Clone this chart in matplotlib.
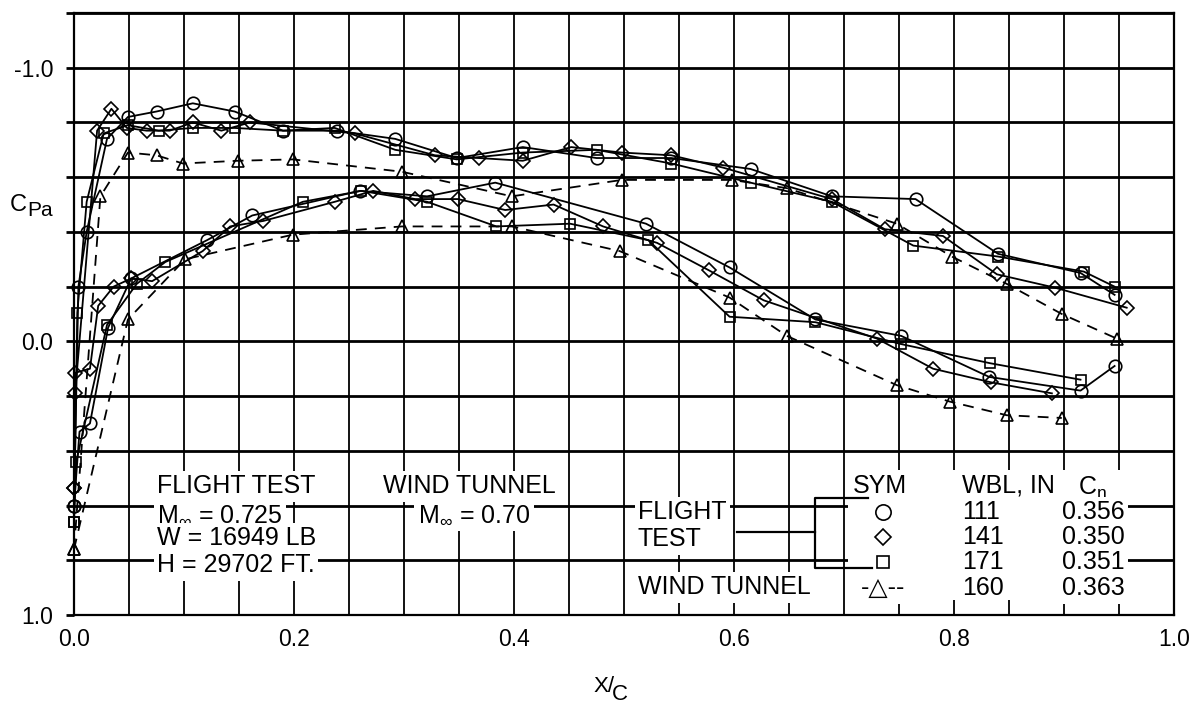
import numpy as np
import matplotlib.pyplot as plt
from matplotlib.patches import Rectangle

plt.rcParams['font.family'] = ['Liberation Sans', 'DejaVu Sans']
plt.rcParams['mathtext.fontset'] = 'custom'
plt.rcParams['mathtext.rm'] = 'Liberation Sans'
plt.rcParams['mathtext.it'] = 'Liberation Sans'

# flight test, WBL 111 (circle)
circ_up_x = [0.0, 0.004, 0.0115, 0.030, 0.049, 0.075, 0.108, 0.146, 0.190, 0.239, 0.292,
             0.348, 0.408, 0.475, 0.543, 0.615, 0.689, 0.765, 0.840, 0.915, 0.946]
circ_up_cp = [0.60, -0.20, -0.40, -0.74, -0.82, -0.84, -0.87, -0.84, -0.77, -0.77, -0.74,
              -0.67, -0.71, -0.67, -0.67, -0.63, -0.53, -0.52, -0.32, -0.25, -0.17]
circ_lo_x = [0.0, 0.005, 0.0145, 0.031, 0.052, 0.121, 0.162, 0.260, 0.321, 0.383, 0.520,
             0.596, 0.674, 0.752, 0.832, 0.915, 0.946]
circ_lo_cp = [0.60, 0.33, 0.30, -0.05, -0.23, -0.37, -0.46, -0.55, -0.53, -0.58, -0.43,
              -0.27, -0.08, -0.02, 0.13, 0.18, 0.09]

# flight test, WBL 141 (diamond)
diam_up_x = [0.0, 0.001, 0.021, 0.034, 0.048, 0.066, 0.087, 0.108, 0.134, 0.160, 0.255, 0.328,
             0.368, 0.408, 0.452, 0.498, 0.543, 0.590, 0.689, 0.737, 0.790, 0.839, 0.892, 0.957]
diam_up_cp = [0.535, 0.19, -0.77, -0.85, -0.78, -0.77, -0.77, -0.80, -0.77, -0.80, -0.76, -0.68,
              -0.67, -0.66, -0.71, -0.69, -0.68, -0.635, -0.52, -0.41, -0.385, -0.245, -0.196, -0.123]
diam_lo_x = [0.0, 0.001, 0.0145, 0.022, 0.036, 0.052, 0.071, 0.117, 0.142, 0.172, 0.237, 0.272,
             0.310, 0.349, 0.392, 0.436, 0.481, 0.530, 0.577, 0.627, 0.730, 0.781, 0.834, 0.889]
diam_lo_cp = [0.535, 0.115, 0.10, -0.13, -0.20, -0.23, -0.22, -0.33, -0.42, -0.44, -0.51, -0.55,
              -0.52, -0.52, -0.48, -0.50, -0.42, -0.36, -0.26, -0.15, -0.01, 0.10, 0.15, 0.19]

# flight test, WBL 171 (square)
sq_up_x = [0.0, 0.003, 0.0115, 0.027, 0.049, 0.077, 0.108, 0.146, 0.190, 0.237, 0.292,
           0.348, 0.408, 0.475, 0.543, 0.615, 0.689, 0.763, 0.840, 0.918, 0.946]
sq_up_cp = [0.66, -0.105, -0.51, -0.76, -0.79, -0.77, -0.78, -0.78, -0.77, -0.78, -0.70,
            -0.665, -0.69, -0.70, -0.65, -0.58, -0.51, -0.35, -0.31, -0.255, -0.20]
sq_lo_x = [0.0, 0.002, 0.030, 0.057, 0.083, 0.208, 0.261, 0.321, 0.384, 0.451, 0.522,
           0.596, 0.674, 0.752, 0.833, 0.915]
sq_lo_cp = [0.66, 0.44, -0.06, -0.21, -0.29, -0.51, -0.55, -0.51, -0.42, -0.43, -0.37,
            -0.09, -0.07, 0.01, 0.08, 0.14]

# wind tunnel, WBL 160 (triangle, dashed)
tri_up_x = [0.0, 0.024, 0.049, 0.075, 0.099, 0.149, 0.199, 0.298, 0.398, 0.498, 0.598,
            0.648, 0.748, 0.798, 0.848, 0.898, 0.948]
tri_up_cp = [0.76, -0.53, -0.69, -0.68, -0.65, -0.66, -0.665, -0.62, -0.53, -0.59, -0.59,
             -0.56, -0.43, -0.31, -0.21, -0.10, -0.01]
tri_lo_x = [0.0, 0.049, 0.101, 0.199, 0.298, 0.398, 0.496, 0.596, 0.648, 0.748, 0.796, 0.848, 0.898]
tri_lo_cp = [0.76, -0.08, -0.30, -0.39, -0.42, -0.42, -0.33, -0.16, -0.02, 0.16, 0.22, 0.27, 0.28]

wbl = ['111', '141', '171', '160']
cn = ['0.356', '0.350', '0.351', '0.363']

fig = plt.figure(figsize=(11.93, 7.19), dpi=100)
ax = fig.add_axes([74 / 1193, 1 - 615 / 719, 1100 / 1193, 602 / 719])


def axc(px, py):
    # pixel position -> axes fraction
    return (px - 74) / 1100, (615 - py) / 602


solid = dict(color='k', lw=1.3, mfc='none', mec='k', mew=1.2, zorder=4, clip_on=False)
for xs, ys in [(circ_up_x, circ_up_cp), (circ_lo_x, circ_lo_cp)]:
    ax.plot(xs, ys, marker='o', ms=9, **solid)
for xs, ys in [(diam_up_x, diam_up_cp), (diam_lo_x, diam_lo_cp)]:
    ax.plot(xs, ys, marker='D', ms=7, **solid)
for xs, ys in [(sq_up_x, sq_up_cp), (sq_lo_x, sq_lo_cp)]:
    ax.plot(xs, ys, marker='s', ms=7.5, **solid)
for xs, ys in [(tri_up_x, tri_up_cp), (tri_lo_x, tri_lo_cp)]:
    ax.plot(xs, ys, marker='^', ms=9, ls=(0, (6, 4.5)), **solid)

ax.set_xlim(0, 1)
ax.set_ylim(1.0, -1.2)

xt = np.arange(0, 1.001, 0.05)
ax.set_xticks(xt)
ax.set_xticklabels([f'{v:.1f}' if round(v * 20) % 4 == 0 else '' for v in xt])
yt = np.arange(-1.2, 1.001, 0.2)
ax.set_yticks(yt)
ax.set_yticklabels([f'{round(v, 1) + 0.0:.1f}' if round(v * 5) % 5 == 0 else '' for v in yt])
ax.grid(axis='x', color='k', lw=1.3)
ax.grid(axis='y', color='k', lw=2.0)
ax.set_axisbelow(True)
ax.tick_params(axis='y', length=6, width=2, direction='out', pad=9, labelsize=16.5)
ax.tick_params(axis='x', length=0, pad=9, labelsize=16.5)
for s in ax.spines.values():
    s.set_linewidth(1.6)

# axis labels
fig.text(10 / 1193, 1 - 205 / 719, 'C', fontsize=17, va='center', ha='left')
fig.text(27 / 1193, 1 - 211 / 719, 'Pa', fontsize=15, va='center', ha='left')
fig.text(614 / 1193, 1 - 686 / 719, 'X/', fontsize=16, va='center', ha='right')
fig.text(612 / 1193, 1 - 695 / 719, 'C', fontsize=16, va='center', ha='left')

box = dict(fc='white', ec='none', pad=2.5)
tkw = dict(transform=ax.transAxes, fontsize=18, va='center', bbox=box, zorder=3)

for py, s in [(486, 'FLIGHT TEST'), (515, r'M$_{\infty}$ = 0.725'),
              (538, 'W = 16949 LB'), (565, 'H = 29702 FT.')]:
    ax.text(*axc(157, py), s, ha='left', **tkw)

ax.text(*axc(469, 486), 'WIND TUNNEL', ha='center', **tkw)
ax.text(*axc(474, 515), r'M$_{\infty}$ = 0.70', ha='center', **tkw)

ax.text(*axc(638, 512), 'FLIGHT', ha='left', **tkw)
ax.text(*axc(638, 539), 'TEST', ha='left', **tkw)
ax.text(*axc(638, 587), 'WIND TUNNEL', ha='left', **tkw)

# white panel behind the symbol table
x0, y0 = axc(848, 600)
ax.add_patch(Rectangle((x0, y0), 280 / 1100, 130 / 602, transform=ax.transAxes,
                       fc='white', ec='none', zorder=1.5))

ax.text(*axc(880, 486), 'SYM', ha='center', **tkw)
ax.text(*axc(962, 486), 'WBL, IN', ha='left', **tkw)
ax.text(*axc(1078, 488), r'C$_{\mathrm{n}}$', ha='left', **tkw)

rows = [512, 537, 562, 588]
for mk, msz, py in [('o', 11, rows[0]), ('D', 8, rows[1]), ('s', 9, rows[2])]:
    ax.plot(*axc(883, py), marker=mk, ms=msz, mfc='none', mec='k', mew=1.2,
            transform=ax.transAxes, zorder=4, clip_on=False)
ax.text(*axc(883, rows[3]), '-\u25b3--', ha='center', **tkw)
for py, w, c in zip(rows, wbl, cn):
    ax.text(*axc(962, py), w, ha='left', **tkw)
    ax.text(*axc(1062, py), c, ha='left', **tkw)

# bracket grouping the flight test rows
lk = dict(color='k', lw=1.6, transform=ax.transAxes, zorder=4, clip_on=False)
ax.plot(*zip(axc(868, 498), axc(815, 498), axc(815, 568), axc(872, 568)), **lk)
ax.plot(*zip(axc(737, 532), axc(815, 532)), **lk)

fig.savefig('out.png', dpi=100)
